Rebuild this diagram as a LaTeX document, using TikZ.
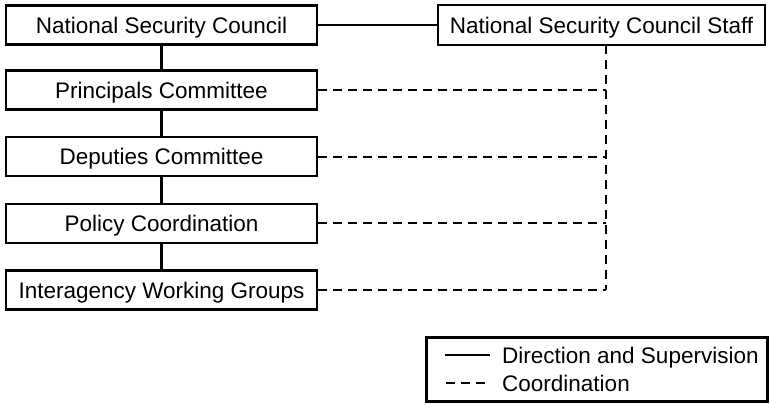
\documentclass[tikz,border=0pt]{standalone}
\usepackage{fontspec}
\setmainfont{Liberation Sans}
\begin{document}
\begin{tikzpicture}[x=1pt,y=-1pt,
  orgbox/.style={draw=black, line width=2.3pt, fill=white, minimum width=311pt, minimum height=39pt, inner sep=0pt, text height=16.1pt, text depth=0pt, font=\fontsize{22.5}{26}\selectfont},
  solidline/.style={line width=2.3pt},
  dashline/.style={line width=2.3pt, dash pattern=on 9pt off 6pt},
  legtext/.style={anchor=base west, inner sep=0pt, font=\fontsize{22.5}{26}\selectfont}]
\useasboundingbox (0,0) rectangle (770,404);
\node[orgbox] (nsc) at (161.5,25) {National Security Council};
\node[orgbox] (pc) at (161.5,90) {Principals Committee};
\node[orgbox] (dc) at (161.5,156.5) {Deputies Committee};
\node[orgbox] (pol) at (161.5,223.5) {Policy Coordination};
\node[orgbox] (iwg) at (161.5,290) {Interagency Working Groups};
\node[orgbox, minimum width=327pt, minimum height=40pt] (staff) at (601.5,25) {National Security Council Staff};
% direction lines
\draw[solidline] (nsc) -- (pc);
\draw[solidline] (pc) -- (dc);
\draw[solidline] (dc) -- (pol);
\draw[solidline] (pol) -- (iwg);
\draw[solidline] (nsc) -- (staff);
% coordination lines
\coordinate (top) at (606,45);
\coordinate (jpc) at (606,90);
\coordinate (jdc) at (606,157);
\coordinate (jpol) at (606,223);
\coordinate (jiwg) at (606,290);
\draw[dashline] (top) -- (jiwg);
\draw[dashline] (pc.east) -- (jpc);
\draw[dashline] (dc.east |- jdc) -- (jdc);
\draw[dashline] (pol.east |- jpol) -- (jpol);
\draw[dashline] (iwg.east) -- (jiwg);
% legend
\node[draw=black, line width=2.3pt, minimum width=341pt, minimum height=64pt, inner sep=0pt] (legend) at (597,369.5) {};
\coordinate (l1a) at (445,355);
\coordinate (l1b) at (490,355);
\coordinate (l2a) at (446,383);
\coordinate (l2b) at (490,383);
\draw[solidline] (l1a) -- (l1b);
\draw[dashline] (l2a) -- (l2b);
\node[legtext] (t1) at (502,363) {Direction and Supervision};
\node[legtext] (t2) at (502,391) {Coordination};
\end{tikzpicture}
\end{document}
